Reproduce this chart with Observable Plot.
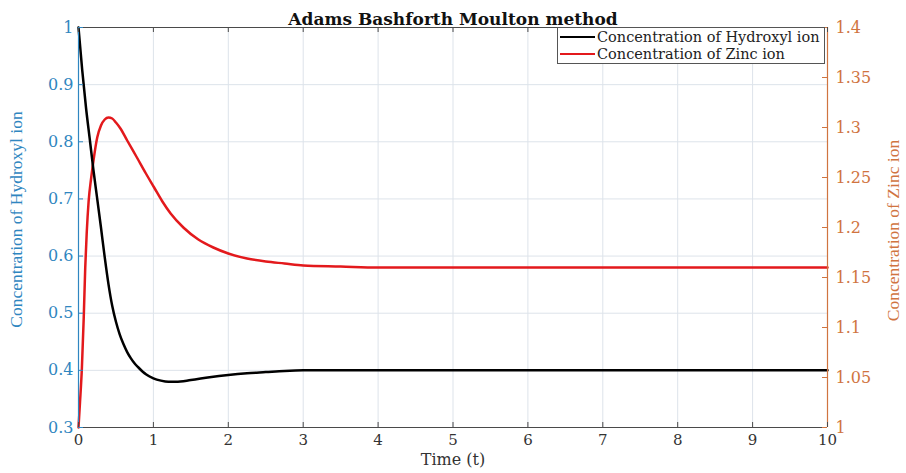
<!DOCTYPE html>
<html><head><meta charset="utf-8">
<script src="https://cdn.jsdelivr.net/npm/d3@7"></script>
<script src="https://cdn.jsdelivr.net/npm/@observablehq/plot@0.6"></script>
<style>
body{margin:0;background:#fff;}
#wrap{position:relative;width:906px;height:473px;font-family:"DejaVu Serif","Liberation Serif",serif;}
#legend{position:absolute;left:557px;top:27px;width:266px;height:35px;border:1px solid #555;background:#fff;font-size:14.5px;color:#222;}
.row{position:absolute;left:2px;height:17px;display:flex;align-items:center;}
.sw{width:35px;height:0;border-top:2.5px solid;margin-right:2px;}
</style></head>
<body><div id="wrap"><div id="legend"></div></div>
<script>
const title = "Adams Bashforth Moulton method";
const xLabel = "Time (t)";
const leftLabel = "Concentration of Hydroxyl ion";
const rightLabel = "Concentration of Zinc ion";
const seriesNames = ["Concentration of Hydroxyl ion", "Concentration of Zinc ion"];

const xTicks = [0,1,2,3,4,5,6,7,8,9,10];
const leftTicks = [0.3,0.4,0.5,0.6,0.7,0.8,0.9,1];
const rightTicks = [1,1.05,1.1,1.15,1.2,1.25,1.3,1.35,1.4];

// Hydroxyl ion (left axis)
const tOH = [0,0.05,0.1,0.15,0.2,0.25,0.3,0.35,0.4,0.45,0.5,0.55,0.6,0.65,0.7,0.75,0.8,0.9,1.0,1.1,1.2,1.3,1.5,1.75,2.0,2.25,2.5,2.75,3.0,3.5,4,5,6,7,8,9,10];
const vOH = [1,0.925,0.86,0.805,0.75,0.70,0.65,0.598,0.551,0.513,0.485,0.463,0.446,0.432,0.421,0.412,0.405,0.393,0.386,0.382,0.380,0.380,0.383,0.388,0.392,0.395,0.397,0.399,0.400,0.400,0.400,0.400,0.400,0.400,0.400,0.400,0.400];

// Zinc ion (right axis)
const tZn = [0,0.02,0.045,0.07,0.09,0.11,0.135,0.17,0.2,0.25,0.3,0.35,0.4,0.45,0.5,0.56,0.65,0.78,0.9,1.01,1.12,1.23,1.4,1.6,1.8,2.0,2.25,2.5,2.75,3.0,3.5,4,5,6,7,8,9,10];
const vZn = [1.0,1.025,1.059,1.11,1.16,1.195,1.226,1.25,1.267,1.29,1.302,1.308,1.31,1.309,1.305,1.299,1.287,1.27,1.254,1.24,1.226,1.214,1.200,1.188,1.180,1.174,1.169,1.166,1.164,1.162,1.161,1.16,1.16,1.16,1.16,1.16,1.16,1.16];

const blue = "#2f86c0", orange = "#d0743f", red = "#e3191c", gridC = "#dde3ea", frameC = "#4a4a4a";
const L0 = 0.3, L1 = 1, R0 = 1, R1 = 1.4;
const toLeft = v => L0 + (v - R0) / (R1 - R0) * (L1 - L0);
const fromLeft = d => R0 + (d - L0) / (L1 - L0) * (R1 - R0);
const fmt = v => String(+v.toFixed(2));

const oh = tOH.map((t,i)=>({t, v:vOH[i]}));
const zn = tZn.map((t,i)=>({t, v:toLeft(vZn[i])}));
const serifC = '"Liberation Serif","Times New Roman",serif';

const chart = Plot.plot({
  width: 906, height: 473,
  marginLeft: 78, marginRight: 79, marginTop: 27, marginBottom: 46,
  style: {fontFamily: '"DejaVu Serif","Liberation Serif",serif', fontSize: "15px", background: "#fff"},
  x: {domain: [0,10]},
  y: {domain: [L0, L1]},
  marks: [
    Plot.gridX(xTicks.slice(1,-1), {stroke: gridC, strokeOpacity: 1}),
    Plot.gridY(leftTicks.slice(1,-1), {stroke: gridC, strokeOpacity: 1}),
    Plot.line(zn, {x: "t", y: "v", stroke: red, strokeWidth: 2.5, curve: "monotone-x"}),
    Plot.line(oh, {x: "t", y: "v", stroke: "#000", strokeWidth: 2.5, curve: "monotone-x"}),
    Plot.ruleY([L0], {stroke: frameC, strokeWidth: 1.2}),
    Plot.ruleY([L1], {stroke: frameC, strokeWidth: 1.2}),
    Plot.ruleX([0], {stroke: blue, strokeWidth: 1.2}),
    Plot.ruleX([10], {stroke: orange, strokeWidth: 1.2}),
    Plot.tickX(xTicks, {x: d=>d, insetTop: 395, stroke: frameC}),
    Plot.tickX(xTicks, {x: d=>d, insetBottom: 395, stroke: frameC}),
    Plot.tickY(leftTicks, {y: d=>d, insetRight: 744, stroke: blue}),
    Plot.tickY(rightTicks.map(toLeft), {y: d=>d, insetLeft: 744, stroke: orange}),
    Plot.axisX(xTicks, {tickSize: 0, tickPadding: 7, fill: "#333", label: null, fontSize: 15}),
    Plot.axisY(leftTicks, {anchor: "left", tickSize: 0, tickPadding: 5, fill: blue, label: null, fontSize: 16, tickFormat: fmt}),
    Plot.axisY(rightTicks.map(toLeft), {anchor: "right", tickSize: 0, tickPadding: 8, fill: orange, label: null, fontSize: 16, tickFormat: d => fmt(fromLeft(d))}),
    Plot.text([title], {frameAnchor: "top", dy: -15, fontWeight: "bold", fontSize: 17, fill: "#111"}),
    Plot.text([xLabel], {frameAnchor: "bottom", dy: 37, fontSize: 16, fill: "#333"}),
    Plot.text([leftLabel], {frameAnchor: "left", textAnchor: "middle", dx: -62, dy: -8, rotate: -90, fontSize: 17.5, fontFamily: serifC, fill: blue}),
    Plot.text([rightLabel], {frameAnchor: "right", textAnchor: "middle", dx: 66, dy: 3, rotate: -90, fontSize: 17.5, fontFamily: serifC, fill: orange})
  ]
});
document.getElementById("wrap").prepend(chart);

const lg = document.getElementById("legend");
[["#000", seriesNames[0]], [red, seriesNames[1]]].forEach(([c, name], i) => {
  const r = document.createElement("div");
  r.className = "row";
  r.style.top = (i*17) + "px";
  r.innerHTML = `<span class="sw" style="border-color:${c}"></span><span>${name}</span>`;
  lg.appendChild(r);
});
</script></body></html>
